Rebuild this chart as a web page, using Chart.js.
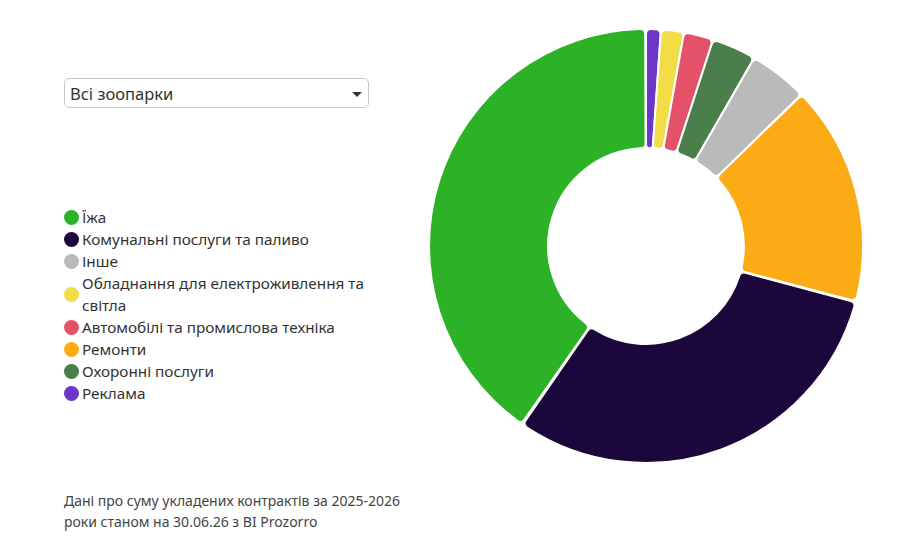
<!DOCTYPE html>
<html lang="uk">
<head>
<meta charset="utf-8">
<script src="https://cdn.jsdelivr.net/npm/chart.js@4.4.1/dist/chart.umd.min.js"></script>
<style>
  html, body { margin: 0; padding: 0; background: #fff; }
  body { width: 906px; height: 546px; position: relative; font-family: "Noto Sans", sans-serif; color: #333; }
  .select {
    position: absolute; left: 64px; top: 78px; width: 303px; height: 28px;
    border: 1px solid #c8c8c8; border-radius: 5px; box-sizing: content-box;
    font-size: 16.5px; line-height: 28px; color: #333;
  }
  .select span { position: absolute; left: 5px; top: 1px; }
  .select .caret {
    position: absolute; right: 6px; top: 13px; width: 0; height: 0;
    border-left: 5px solid transparent; border-right: 5px solid transparent; border-top: 5px solid #333;
  }
  #legend { position: absolute; left: 64px; top: 206px; width: 310px; font-size: 15.3px; line-height: 22px; color: #333; }
  .item { display: flex; align-items: center; }
  .dot { flex: none; width: 15px; height: 15px; border-radius: 50%; margin-right: 3px; }
  .footer { position: absolute; left: 64px; top: 490px; width: 350px; font-size: 14px; line-height: 21px; color: #444; }
  .chart-box { position: absolute; left: 428px; top: 28px; width: 436px; height: 436px; }
</style>
</head>
<body>
<div class="select"><span>Всі зоопарки</span><div class="caret"></div></div>
<div id="legend"></div>
<div class="footer">Дані про суму укладених контрактів за 2025-2026 роки станом на 30.06.26 з BI Prozorro</div>
<div class="chart-box"><canvas id="chart"></canvas></div>

<script>
// categories in legend order
const categories = [
  'Їжа',
  'Комунальні послуги та паливо',
  'Інше',
  'Обладнання для електроживлення та світла',
  'Автомобілі та промислова техніка',
  'Ремонти',
  'Охоронні послуги',
  'Реклама'
];
// share of contract sum, %
const values = [40.3, 30.5, 4.4, 1.7, 2.2, 16.4, 3.3, 1.1];
const colors = ['#2db127', '#1b073b', '#bababa', '#f3dd46', '#e4526a', '#fbab16', '#4a7e4b', '#6c36c8'];

// custom legend
const legend = document.getElementById('legend');
categories.forEach((name, i) => {
  const row = document.createElement('div');
  row.className = 'item';
  row.innerHTML = '<span class="dot" style="background:' + colors[i] + '"></span><span>' + name + '</span>';
  legend.appendChild(row);
});

// chart draws slices ascending from the top
const order = values.map((v, i) => i).sort((a, b) => values[a] - values[b]);

new Chart(document.getElementById('chart'), {
  type: 'doughnut',
  data: {
    labels: order.map(i => categories[i]),
    datasets: [{
      data: order.map(i => values[i]),
      backgroundColor: order.map(i => colors[i]),
      borderColor: '#ffffff',
      borderWidth: 2,
      borderRadius: 5,
      spacing: 1
    }]
  },
  options: {
    responsive: true,
    maintainAspectRatio: false,
    animation: false,
    cutout: '45%',
    layout: { padding: 0 },
    plugins: {
      legend: { display: false },
      tooltip: { enabled: false }
    }
  }
});
</script>
</body>
</html>
